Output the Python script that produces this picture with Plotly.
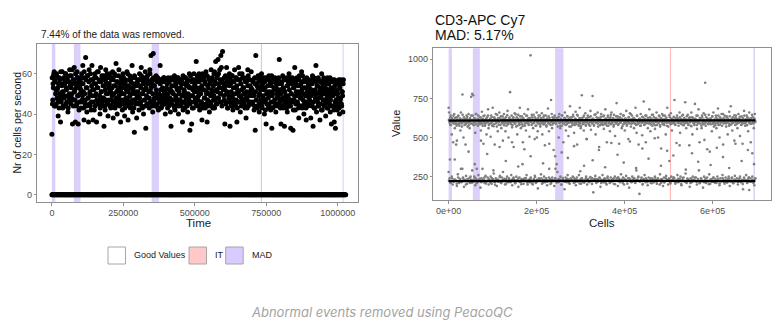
import numpy as np
import plotly.graph_objects as go

# ---------------- data ----------------
# Left panel: number of cells per second over time (two interleaved sets of time bins)
counts_bins_a = [
    30, 45, 55, 59, 61, 57, 44, 52, 60, 48, 53, 39, 46, 58, 50, 36, 47, 55, 61, 43, 51, 49, 57, 44, 60, 53, 46, 58, 41, 56, 48, 62, 54, 45, 59, 50, 35, 57, 47, 63, 52, 36, 55, 44, 61, 49, 35, 58, 46, 53,
    56, 43, 60, 47, 64, 51, 37, 58, 45, 68, 53, 41, 59, 48, 36, 62, 50, 44, 57, 46, 64, 52, 37, 55, 42, 60, 49, 58, 36, 53, 45, 61, 47, 56, 40, 63, 51, 44, 57, 48, 59, 34, 54, 42, 62, 50, 46, 58, 39, 55,
    47, 60, 52, 43, 57, 49, 61, 38, 54, 46, 59, 44, 65, 51, 40, 56, 48, 62, 45, 53, 36, 58, 50, 42, 60, 47, 55, 39, 57, 44, 52, 61, 48, 37, 54, 46, 59, 43, 56, 50, 64, 41, 53, 47, 31, 58, 45, 51, 38, 55,
    49, 57, 42, 60, 46, 53, 63, 44, 58, 50, 40, 55, 47, 61, 33, 52, 45, 59, 48, 56, 43, 62, 51, 69, 46, 55, 41, 70, 54, 48, 57, 44, 59, 50, 45, 58, 42, 57, 47, 64, 52, 43, 57, 49, 56, 45, 58, 51, 40, 57,
    48, 55, 43, 58, 46, 52, 57, 41, 34, 54, 47, 57, 50, 44, 59, 42, 56, 48, 53, 45, 58, 40, 51, 47, 57, 44, 55, 49, 36, 59, 46, 52, 43, 58, 50, 45, 56, 41, 54, 48, 60, 32, 53, 46, 35, 57, 49, 43, 60, 51,
    55, 47, 66, 51, 44, 58, 49, 60, 42, 53, 46, 57, 37, 52, 45, 59, 48, 56, 43, 61, 50, 36, 54, 46, 58, 41, 55, 49, 62, 44, 57, 51, 47, 60, 43, 56, 66, 52, 45, 59, 67, 48, 55, 62, 50, 69, 46, 57, 71, 53,
    49, 58, 35, 54, 46, 63, 51, 43, 57, 48, 60, 34, 55, 45, 59, 50, 42, 56, 47, 62, 53, 44, 58, 36, 52, 46, 63, 49, 57, 41, 55, 48, 60, 45, 53, 50, 58, 43, 56, 38, 51, 47, 62, 44, 57, 49, 54, 46, 61, 52,
    45, 56, 50, 42, 58, 32, 69, 47, 54, 44, 59, 49, 41, 57, 52, 46, 60, 43, 55, 48, 58, 40, 53, 47, 35, 57, 45, 51, 43, 59, 49, 56, 42, 54, 33, 50, 58, 46, 53, 44, 57, 41, 55, 48, 52, 45, 58, 67, 50, 43,
    35, 55, 47, 59, 43, 52, 34, 57, 49, 45, 58, 41, 54, 48, 60, 44, 56, 33, 50, 46, 58, 32, 53, 47, 63, 42, 55, 49, 57, 45, 51, 38, 59, 44, 54, 48, 61, 43, 56, 50, 40, 57, 46, 53, 37, 58, 49, 44, 55, 51,
    47, 56, 38, 52, 45, 59, 34, 50, 43, 57, 48, 64, 41, 54, 46, 58, 44, 51, 37, 56, 49, 60, 42, 53, 47, 57, 45, 52, 39, 55, 48, 58, 43, 50, 46, 56, 41, 53, 35, 49, 57, 44, 51, 36, 54, 33, 47, 56, 42, 50, 45, 57, 40, 53, 48, 56, 44, 51, 41, 57,
]
counts_bins_b = [
    58, 47, 53, 60, 44, 56, 50, 45, 59, 52, 47, 55, 43, 57, 49, 61, 46, 54, 51, 44, 58, 48, 55, 60, 45, 52, 57, 49, 43, 56, 50, 59, 46, 53, 48, 62, 55, 44, 57, 51, 47, 60, 53, 45, 58, 49, 56, 42, 54, 50,
    52, 46, 58, 49, 55, 43, 61, 50, 47, 57, 44, 53, 59, 48, 56, 45, 51, 60, 42, 54, 49, 57, 46, 52, 58, 44, 55, 50, 47, 61, 53, 45, 57, 49, 43, 56, 51, 59, 46, 54, 48, 58, 44, 52, 56, 47, 60, 50, 45, 53,
    55, 44, 51, 58, 47, 53, 45, 57, 50, 60, 43, 54, 48, 56, 46, 52, 59, 49, 44, 55, 51, 47, 57, 53, 45, 58, 50, 43, 56, 48, 54, 46, 60, 51, 44, 57, 49, 53, 45, 58, 47, 52, 55, 43, 59, 50, 46, 54, 48, 56,
    51, 45, 57, 48, 54, 46, 59, 50, 43, 56, 52, 47, 58, 44, 53, 49, 57, 45, 55, 51, 48, 60, 46, 53, 57, 44, 50, 58, 47, 54, 45, 57, 52, 48, 56, 43, 57, 50, 46, 55, 49, 57, 44, 53, 47, 58, 51, 45, 56, 49,
    53, 46, 57, 50, 44, 56, 48, 52, 58, 45, 51, 57, 47, 54, 43, 57, 49, 55, 46, 52, 58, 44, 50, 56, 47, 53, 45, 57, 49, 42, 55, 51, 46, 58, 48, 54, 44, 57, 50, 47, 53, 45, 59, 49, 56, 43, 52, 57, 46, 54,
    48, 57, 45, 53, 59, 47, 51, 56, 44, 58, 50, 46, 54, 60, 43, 52, 57, 48, 55, 45, 51, 59, 47, 53, 44, 57, 50, 56, 46, 52, 58, 43, 54, 49, 61, 47, 55, 45, 58, 51, 48, 60, 53, 46, 57, 50, 63, 44, 56, 52,
    55, 47, 52, 59, 45, 50, 56, 43, 58, 49, 54, 46, 57, 51, 44, 59, 48, 53, 56, 45, 50, 58, 47, 54, 43, 57, 51, 46, 60, 49, 55, 44, 52, 58, 47, 53, 45, 57, 50, 48, 56, 43, 54, 59, 46, 51, 57, 45, 53, 49,
    52, 46, 57, 49, 44, 55, 51, 47, 58, 43, 53, 56, 45, 50, 59, 47, 54, 44, 57, 49, 52, 46, 56, 42, 58, 50, 45, 54, 48, 57, 44, 51, 55, 46, 59, 49, 43, 56, 52, 47, 58, 45, 53, 50, 44, 57, 48, 55, 46, 52,
    50, 44, 56, 48, 53, 58, 45, 51, 47, 57, 43, 54, 49, 56, 46, 52, 58, 44, 50, 55, 47, 57, 42, 53, 49, 56, 45, 51, 58, 46, 54, 43, 57, 50, 48, 55, 44, 52, 59, 47, 53, 45, 56, 49, 43, 57, 51, 46, 54, 48,
    53, 45, 57, 49, 44, 55, 51, 46, 58, 43, 52, 56, 47, 50, 54, 44, 57, 48, 53, 45, 56, 42, 51, 55, 47, 58, 44, 50, 53, 46, 57, 43, 52, 49, 55, 45, 58, 47, 51, 44, 56, 49, 53, 42, 57, 46, 50, 55, 44, 52, 48, 56, 43, 54, 47, 57, 45, 51, 49, 55,
]
time_end = 1020000
time_bins_a = np.linspace(0, time_end, len(counts_bins_a))
time_bins_b = np.linspace(1000, time_end - 1000, len(counts_bins_b))
zero_time_bins = np.linspace(0, 1028000, 600)
zero_counts = [0] * len(zero_time_bins)   # empty bins lie on the zero line

left_mad_ranges = [(0, 12000), (77000, 100000), (349000, 375000), (1017000, 1021000)]
left_it_lines = [733000]
left_x_ticks = [0, 250000, 500000, 750000, 1000000]
left_y_ticks = [0, 20, 40, 60]

# Right panel: CD3-APC Cy7 values per cell
upper_vals = [
    690, 660, 615, 580, 640, 600, 520, 625, 595, 470, 610, 650, 560, 605, 590, 630, 480, 612, 585, 640,
    605, 575, 620, 545, 660, 600, 590, 775, 615, 500, 630, 580, 610, 455, 595, 640, 620, 570, 605, 650,
    600, 560, 625, 590, 760, 610, 780, 640, 770, 595, 580, 620, 530, 605, 650, 300, 615, 575, 640, 600,
    610, 585, 630, 545, 600, 665, 590, 620, 460, 605, 640, 575, 615, 595, 520, 630, 600, 680, 560, 610,
    590, 620, 505, 640, 600, 575, 690, 610, 585, 630, 455, 605, 650, 595, 570, 615, 540, 625, 600, 660,
    605, 580, 635, 560, 610, 595, 480, 620, 650, 590, 605, 540, 630, 575, 610, 670, 595, 500, 620, 600,
    790, 610, 585, 640, 565, 605, 625, 440, 600, 655, 590, 615, 570, 630, 520, 605, 645, 595, 580, 690,
    615, 560, 600, 635, 585, 470, 620, 605, 650, 575, 610, 545, 595, 640, 600, 680, 590, 625, 505, 610,
    1025, 600, 580, 630, 615, 560, 645, 595, 490, 610, 620, 575, 660, 600, 540, 625, 605, 590, 640, 570,
    610, 595, 655, 520, 600, 630, 585, 615, 450, 605, 640, 570, 620, 600, 685, 590, 540, 625, 610, 580,
    740, 605, 560, 630, 595, 420, 615, 640, 380, 590, 605, 330, 625, 570, 610, 500, 650, 595, 560, 620,
    600, 575, 640, 610, 470, 590, 625, 660, 600, 545, 615, 585, 635, 605, 510, 620, 595, 700, 610, 570,
    630, 600, 580, 645, 610, 530, 595, 620, 665, 585, 605, 455, 640, 600, 575, 615, 690, 590, 560, 625,
    770, 605, 585, 630, 545, 610, 600, 655, 575, 620, 490, 595, 640, 610, 580, 630, 600, 670, 550, 615,
    590, 765, 620, 600, 575, 645, 610, 520, 595, 630, 605, 660, 570, 615, 440, 600, 625, 585, 650, 610,
    600, 580, 635, 555, 610, 595, 680, 620, 590, 470, 605, 640, 575, 615, 600, 540, 630, 585, 660, 605,
    595, 620, 570, 645, 605, 510, 615, 590, 720, 600, 635, 580, 610, 460, 625, 595, 650, 605, 560, 620,
    610, 585, 640, 600, 545, 620, 595, 670, 575, 610, 600, 490, 630, 590, 655, 615, 570, 605, 640, 595,
    600, 625, 560, 615, 590, 690, 605, 530, 640, 585, 610, 455, 620, 600, 575, 650, 610, 595, 515, 630,
    605, 730, 580, 620, 600, 470, 640, 595, 610, 560, 625, 590, 680, 605, 540, 615, 600, 645, 575, 610,
    590, 630, 605, 555, 620, 600, 660, 580, 615, 500, 595, 640, 610, 570, 625, 430, 600, 650, 585, 605,
    615, 580, 640, 600, 520, 625, 595, 690, 610, 570, 605, 350, 630, 590, 655, 600, 545, 620, 595, 610,
    600, 740, 585, 625, 610, 465, 640, 595, 615, 575, 600, 660, 530, 620, 590, 605, 640, 580, 615, 600,
    625, 590, 725, 605, 560, 615, 595, 645, 580, 610, 450, 630, 600, 575, 660, 610, 520, 625, 595, 605,
    580, 715, 620, 600, 640, 555, 610, 595, 680, 605, 470, 625, 590, 615, 560, 640, 600, 585, 655, 610,
    600, 850, 575, 630, 605, 425, 615, 590, 645, 600, 410, 620, 585, 610, 540, 635, 600, 660, 570, 615,
    605, 590, 640, 560, 620, 600, 685, 580, 615, 500, 630, 595, 610, 650, 575, 605, 455, 625, 600, 640,
    595, 610, 570, 635, 600, 520, 620, 590, 665, 605, 580, 700, 615, 600, 545, 630, 595, 610, 480, 625,
    600, 640, 585, 615, 560, 605, 650, 595, 620, 510, 610, 580, 635, 600, 460, 625, 595, 670, 605, 575,
    615, 600, 640, 580, 620, 540, 605, 660, 595, 610, 470, 625, 590, 400, 630, 600, 560, 615, 650, 600,
]
upper_vals_b = [
    612, 595, 630, 580, 618, 603, 640, 588, 625, 598, 575, 615, 635, 600, 590, 622, 608, 570, 645, 605,
    598, 620, 585, 610, 632, 595, 578, 615, 605, 640, 590, 612, 580, 625, 600, 650, 587, 608, 620, 593,
    605, 628, 592, 615, 575, 638, 600, 585, 612, 622, 596, 640, 580, 608, 618, 590, 630, 603, 572, 615,
    620, 590, 610, 645, 598, 582, 625, 606, 615, 590, 635, 600, 578, 620, 610, 595, 642, 585, 605, 628,
    594, 615, 600, 580, 630, 612, 590, 648, 603, 575, 620, 608, 585, 635, 598, 615, 572, 625, 605, 590,
    610, 638, 592, 620, 580, 605, 625, 600, 645, 588, 612, 597, 630, 576, 615, 603, 590, 640, 608, 582,
    625, 600, 615, 585, 640, 595, 610, 578, 622, 605, 635, 590, 612, 600, 650, 583, 618, 596, 628, 607,
    588, 620, 605, 632, 595, 575, 615, 642, 600, 590, 610, 625, 580, 603, 638, 594, 612, 570, 628, 600,
    615, 590, 635, 605, 580, 620, 598, 645, 610, 585, 625, 600, 572, 618, 606, 592, 640, 608, 583, 622,
    600, 628, 590, 612, 575, 636, 605, 595, 620, 582, 610, 648, 598, 615, 588, 625, 603, 578, 632, 610,
    595, 612, 640, 585, 620, 600, 575, 630, 608, 592, 618, 645, 590, 605, 625, 580, 612, 598, 635, 603,
    620, 586, 608, 630, 596, 615, 572, 640, 605, 590, 622, 600, 583, 612, 628, 595, 610, 650, 588, 618,
    604, 625, 590, 615, 580, 638, 600, 612, 595, 620, 576, 608, 632, 598, 615, 585, 640, 605, 592, 625,
    612, 596, 630, 584, 620, 605, 645, 590, 610, 578, 625, 600, 615, 594, 636, 580, 608, 622, 598, 640,
    590, 615, 603, 628, 575, 610, 596, 642, 605, 585, 620, 612, 592, 632, 600, 580, 618, 606, 625, 595,
    608, 630, 588, 612, 600, 645, 578, 620, 605, 594, 636, 610, 584, 625, 598, 615, 572, 630, 603, 590,
    620, 598, 612, 580, 640, 605, 590, 625, 612, 575, 630, 600, 615, 588, 645, 596, 610, 622, 585, 605,
    596, 622, 605, 635, 588, 612, 600, 578, 628, 610, 592, 640, 603, 582, 620, 598, 615, 650, 590, 608,
    615, 590, 628, 600, 612, 575, 636, 605, 585, 620, 596, 610, 642, 580, 625, 602, 592, 618, 607, 632,
    600, 612, 585, 625, 605, 640, 592, 615, 578, 630, 608, 596, 620, 586, 612, 645, 600, 590, 622, 605,
]
lower_vals = [
    280, 240, 215, 250, 200, 230, 360, 225, 190, 265, 210, 235, 300, 220, 245, 185, 230, 255, 205, 225,
    240, 210, 230, 290, 220, 250, 195, 235, 215, 260, 225, 180, 240, 300, 230, 210, 255, 220, 245, 200,
    225, 250, 205, 235, 270, 215, 240, 190, 230, 220, 255, 210, 245, 280, 225, 200, 235, 250, 215, 230,
    220, 260, 195, 240, 230, 210, 250, 225, 185, 245, 215, 235, 330, 205, 240, 225, 260, 200, 230, 215,
    245, 220, 200, 235, 255, 210, 230, 175, 240, 225, 265, 205, 230, 250, 215, 240, 195, 225, 300, 235,
    210, 245, 225, 190, 240, 220, 280, 215, 235, 250, 200, 230, 225, 170, 245, 215, 260, 230, 205, 240,
    225, 250, 210, 235, 195, 245, 220, 260, 230, 205, 240, 215, 320, 225, 250, 200, 235, 215, 245, 225,
    240, 150, 230, 255, 210, 235, 220, 245, 185, 230, 260, 215, 240, 225, 200, 250, 230, 210, 245, 220,
    230, 205, 250, 225, 240, 190, 235, 215, 265, 225, 245, 200, 230, 255, 220, 240, 180, 235, 215, 250,
    225, 240, 210, 290, 230, 250, 140, 220, 245, 200, 235, 260, 215, 230, 195, 245, 225, 210, 240, 230,
    215, 250, 230, 205, 240, 225, 265, 210, 235, 190, 245, 220, 255, 230, 200, 240, 215, 250, 225, 235,
    240, 205, 225, 260, 215, 235, 250, 195, 230, 245, 220, 270, 210, 235, 225, 185, 240, 215, 250, 230,
    225, 245, 200, 235, 290, 215, 240, 225, 180, 250, 230, 210, 245, 220, 265, 205, 235, 225, 240, 215,
    235, 210, 250, 225, 195, 240, 220, 260, 230, 205, 245, 215, 235, 250, 190, 225, 240, 210, 230, 255,
    220, 240, 200, 235, 250, 215, 230, 170, 245, 225, 260, 210, 235, 165, 240, 220, 250, 230, 195, 240,
]
lower_vals_b = [
    225, 210, 240, 218, 232, 205, 245, 222, 215, 238, 228, 200, 235, 220, 250, 212, 230, 242, 208, 226,
    236, 215, 228, 244, 206, 222, 234, 212, 240, 225, 198, 232, 218, 246, 210, 228, 236, 204, 220, 240,
    214, 230, 245, 208, 224, 238, 218, 202, 232, 226, 242, 212, 228, 236, 206, 220, 248, 216, 230, 224,
    240, 210, 226, 234, 218, 245, 204, 228, 222, 238, 212, 232, 226, 200, 242, 218, 230, 236, 210, 224,
    228, 245, 214, 232, 220, 206, 238, 226, 212, 240, 230, 218, 248, 204, 224, 236, 216, 228, 242, 210,
    220, 234, 208, 242, 226, 214, 230, 238, 202, 224, 246, 218, 232, 210, 236, 228, 205, 240, 222, 216,
    236, 212, 228, 245, 218, 232, 204, 226, 240, 214, 222, 238, 208, 230, 244, 216, 226, 200, 234, 220,
    212, 240, 224, 232, 206, 228, 246, 218, 214, 236, 230, 204, 242, 222, 216, 238, 228, 210, 232, 226,
    244, 218, 230, 208, 236, 222, 214, 240, 226, 202, 232, 218, 246, 212, 228, 234, 206, 224, 240, 216,
    228, 212, 236, 220, 244, 208, 230, 226, 216, 238, 222, 204, 234, 228, 212, 246, 218, 230, 210, 236,
]
mid_vals = [360, 455, 300, 410, 330, 480, 395, 290, 440, 350, 470, 315, 425, 380, 500, 335, 460, 300, 405, 370,
            445, 285, 490, 355, 420, 310, 465, 390, 340, 475, 305, 430, 365, 495, 320, 415, 385, 450, 295, 400,
            345, 485, 325, 435, 375, 305, 460, 350, 420, 330]
upper_median = [608, 610, 609, 611, 610, 608, 609]
lower_median = [222, 223, 221, 222, 223, 222, 222]
cells_end = 697000

right_mad_ranges = [(0, 7500), (55000, 71000), (242000, 261000), (692500, 696000)]
right_it_lines = [504000]
right_x_ticks = [0, 200000, 400000, 600000]
right_x_labels = ["0e+00", "2e+05", "4e+05", "6e+05"]
right_y_ticks = [250, 500, 750, 1000]

legend_labels = ["Good Values", "IT", "MAD"]
legend_fills = ["#ffffff", "#ffc9c9", "#dacbff"]

# ---------------- styling ----------------
W, H = 776, 324
FONT = "Liberation Sans, Arial, sans-serif"
TICK_COL = "#4d4d4d"
BOX_COL = "#8f8f8f"
MAD_FILL = "#dcd0fb"
IT_COL = "#ffb3b3"
GREY_PT = "#7f7f7f"

def px(x):
    return x / W

def py(y):
    return 1 - y / H

fig = go.Figure()

# left panel traces
fig.add_trace(go.Scatter(x=zero_time_bins, y=zero_counts, mode="markers",
                         marker=dict(color="black", size=5), xaxis="x", yaxis="y", showlegend=False))
for tb, vals in ((time_bins_a, counts_bins_a), (time_bins_b, counts_bins_b)):
    fig.add_trace(go.Scatter(x=tb, y=vals, mode="markers",
                             marker=dict(color="black", size=5), xaxis="x", yaxis="y", showlegend=False))

# right panel traces
def spread(vals, start, end):
    return np.linspace(start, end, len(vals))

for vals, s, e in ((upper_vals, 0, cells_end), (upper_vals_b, 500, cells_end - 500),
                   (lower_vals, 0, cells_end), (lower_vals_b, 800, cells_end - 800),
                   (mid_vals, 3000, cells_end - 3000)):
    fig.add_trace(go.Scatter(x=spread(vals, s, e), y=vals, mode="markers",
                             marker=dict(color=GREY_PT, size=2.6), xaxis="x2", yaxis="y2", showlegend=False))
for med in (upper_median, lower_median):
    fig.add_trace(go.Scatter(x=spread(med, 0, cells_end), y=med, mode="lines",
                             line=dict(color="black", width=2.3), xaxis="x2", yaxis="y2", showlegend=False))

shapes = []
for (a, b) in left_mad_ranges:
    shapes.append(dict(type="rect", xref="x", yref="y domain", x0=a, x1=b, y0=0, y1=1,
                       fillcolor=MAD_FILL, line=dict(width=0), layer="below"))
for v in left_it_lines:
    shapes.append(dict(type="line", xref="x", yref="y domain", x0=v, x1=v, y0=0, y1=1,
                       line=dict(color=IT_COL, width=1), layer="below"))
for (a, b) in right_mad_ranges:
    shapes.append(dict(type="rect", xref="x2", yref="y2 domain", x0=a, x1=b, y0=0, y1=1,
                       fillcolor=MAD_FILL, line=dict(width=0), layer="below"))
for v in right_it_lines:
    shapes.append(dict(type="line", xref="x2", yref="y2 domain", x0=v, x1=v, y0=0, y1=1,
                       line=dict(color=IT_COL, width=1), layer="below"))

# legend boxes
legend_box_x = [108, 189, 225.7]
legend_text_x = [131.5, 213, 250]
for bx, fill in zip(legend_box_x, legend_fills):
    shapes.append(dict(type="rect", xref="paper", yref="paper", x0=px(bx), x1=px(bx + 17.5),
                       y0=py(264), y1=py(247), fillcolor=fill, line=dict(color="#a6a6a6", width=1)))

annotations = []
for tx, lab in zip(legend_text_x, legend_labels):
    annotations.append(dict(text=lab, x=px(tx), y=py(255.5), xref="paper", yref="paper",
                            xanchor="left", yanchor="middle", showarrow=False,
                            font=dict(family=FONT, size=9, color="#1a1a1a")))

annotations += [
    dict(text="7.44% of the data was removed.", x=px(38.5), y=py(34), xref="paper", yref="paper",
         xanchor="left", yanchor="middle", showarrow=False, font=dict(family=FONT, size=10, color="#1a1a1a")),
    dict(text="CD3-APC Cy7", x=px(432.5), y=py(20), xref="paper", yref="paper",
         xanchor="left", yanchor="middle", showarrow=False, font=dict(family=FONT, size=14, color="#111111")),
    dict(text="MAD: 5.17%", x=px(432.5), y=py(35), xref="paper", yref="paper",
         xanchor="left", yanchor="middle", showarrow=False, font=dict(family=FONT, size=14, color="#111111")),
    dict(text="Nr of cells per second", x=px(16.5), y=py(123), xref="paper", yref="paper", textangle=-90,
         xanchor="center", yanchor="middle", showarrow=False, font=dict(family=FONT, size=10.5, color="#1a1a1a")),
    dict(text="Time", x=px(199), y=py(223.5), xref="paper", yref="paper",
         xanchor="center", yanchor="middle", showarrow=False, font=dict(family=FONT, size=11.5, color="#1a1a1a")),
    dict(text="Value", x=px(396), y=py(124), xref="paper", yref="paper", textangle=-90,
         xanchor="center", yanchor="middle", showarrow=False, font=dict(family=FONT, size=11, color="#1a1a1a")),
    dict(text="Cells", x=px(602), y=py(223.5), xref="paper", yref="paper",
         xanchor="center", yanchor="middle", showarrow=False, font=dict(family=FONT, size=11.5, color="#1a1a1a")),
    dict(text="Abnormal events removed using PeacoQC", x=px(382), y=py(312), xref="paper", yref="paper",
         xanchor="center", yanchor="middle", showarrow=False,
         font=dict(family="Inter, Roboto, sans-serif", size=13, color="#a3a3a3", style="italic")),
]

axis_common = dict(showgrid=False, zeroline=False, showline=True, mirror=True, linecolor=BOX_COL,
                   linewidth=1, ticks="outside", ticklen=2.5, tickcolor=BOX_COL,
                   tickfont=dict(family=FONT, size=9, color=TICK_COL))

fig.update_layout(
    width=W, height=H, margin=dict(l=0, r=0, t=0, b=0),
    paper_bgcolor="white", plot_bgcolor="white", showlegend=False,
    xaxis=dict(domain=[px(37.3), px(358)], range=[-51000, 1071000], anchor="y",
               tickvals=left_x_ticks, ticktext=[str(v) for v in left_x_ticks], **axis_common),
    yaxis=dict(domain=[py(202), py(44)], range=[-3.6, 74.7], anchor="x",
               tickvals=left_y_ticks, **axis_common),
    xaxis2=dict(domain=[px(433.3), px(770.7)], range=[-34850, 731850], anchor="y2",
                tickvals=right_x_ticks, ticktext=right_x_labels, **axis_common),
    yaxis2=dict(domain=[py(200), py(48.3)], range=[101, 1070], anchor="x2",
                tickvals=right_y_ticks, **axis_common),
    shapes=shapes, annotations=annotations,
)

fig.write_html("out.html")
